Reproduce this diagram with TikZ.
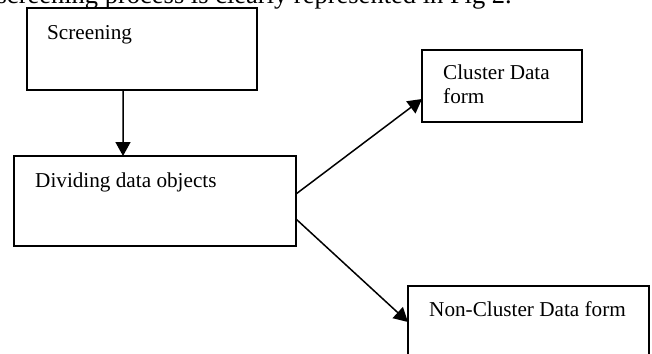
\documentclass[tikz,border=0pt]{standalone}
\usepackage{fontspec}
\setmainfont{Liberation Serif}
\usetikzlibrary{arrows.meta}
\begin{document}
\begin{tikzpicture}[x=1bp,y=-1bp,
  box/.style={draw, line width=1.5bp, rectangle, anchor=north west,
              inner sep=0pt, outer sep=0pt},
  lbl/.style={anchor=base west, inner sep=0pt,
              font=\fontsize{21.2bp}{24bp}\selectfont},
  flow/.style={line width=1.5bp, -{Triangle[length=14bp,width=15bp]}}]
\useasboundingbox (0,0) rectangle (652,353);
\clip (0,0) rectangle (652,353);

% running text above the figure
\node[anchor=base east, inner sep=0pt, font=\fontsize{26.5bp}{30bp}\selectfont]
  (caption) at (512,3.5) {screening process is clearly represented in Fig 2.};

% boxes
\node[box, minimum width=230bp, minimum height=82bp] (screen) at (27,8) {};
\node[box, minimum width=282bp, minimum height=90bp] (divide) at (14,156) {};
\node[box, minimum width=160bp, minimum height=72bp] (cluster) at (422,50) {};
\node[box, minimum width=241bp, minimum height=94bp] (noncluster) at (408,286) {};

% labels
\node[lbl] (tscreen) at (47,39.5) {Screening};
\node[lbl] (tdivide) at (35,187) {Dividing data objects};
\node[lbl] (tcluster1) at (443,79) {Cluster Data};
\node[lbl] (tcluster2) at (443,103) {form};
\node[lbl] (tnoncluster) at (429,316.7) {Non-Cluster Data form};

% connectors
\draw[flow] ([xshift=96bp]screen.south west) -- ([xshift=109bp]divide.north west);
\draw[flow] ([yshift=-38bp]divide.north east) -- ([yshift=-49bp]cluster.north west);
\draw[flow] ([yshift=-63bp]divide.north east) -- ([yshift=-36bp]noncluster.north west);
\end{tikzpicture}
\end{document}
